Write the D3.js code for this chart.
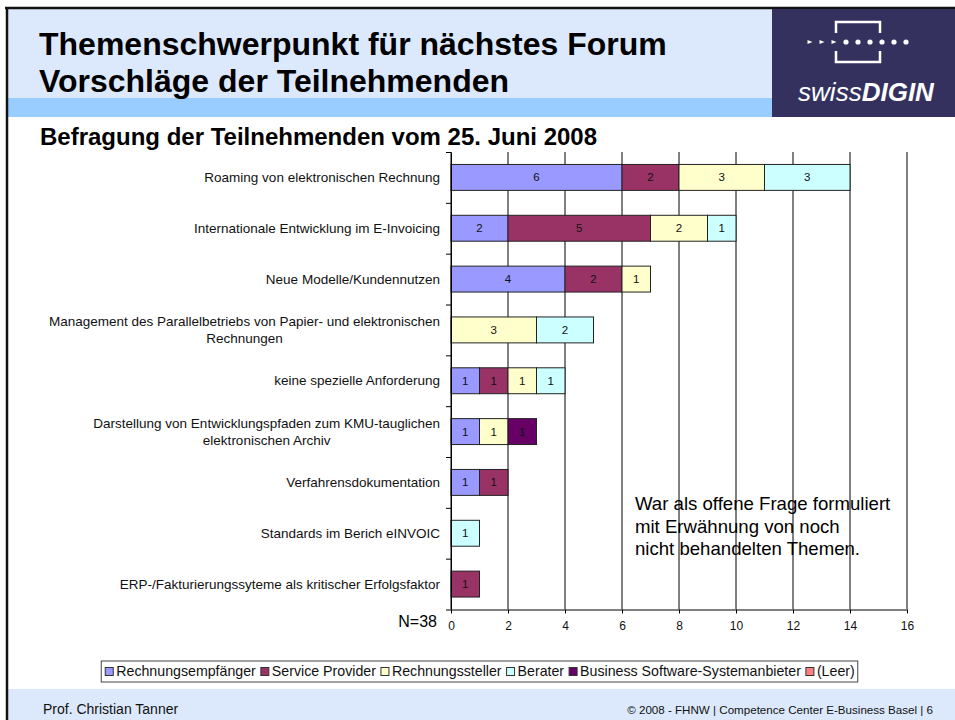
<!DOCTYPE html>
<html>
<head>
<meta charset="utf-8">
<script src="https://cdn.jsdelivr.net/npm/d3@7"></script>
<style>
  body { margin: 0; background: #fff; }
  svg { display: block; font-family: "Liberation Sans", Arial, sans-serif; }
</style>
</head>
<body>
<div id="slide"></div>
<script>
// categories (top to bottom), "\n" marks a wrapped label
var categories = [
  "Roaming von elektronischen Rechnung",
  "Internationale Entwicklung im E-Invoicing",
  "Neue Modelle/Kundennutzen",
  "Management des Parallelbetriebs von Papier- und elektronischen\nRechnungen",
  "keine spezielle Anforderung",
  "Darstellung von Entwicklungspfaden zum KMU-tauglichen\nelektronischen Archiv",
  "Verfahrensdokumentation",
  "Standards im Berich eINVOIC",
  "ERP-/Fakturierungssyteme als kritischer Erfolgsfaktor"
];

// series values, one per category
var rechnungsempfaenger = [6, 2, 4, 0, 1, 1, 1, 0, 0];
var serviceProvider     = [2, 5, 2, 0, 1, 0, 1, 0, 1];
var rechnungssteller    = [3, 2, 1, 3, 1, 1, 0, 0, 0];
var berater             = [3, 1, 0, 2, 1, 0, 0, 1, 0];
var businessSoftware    = [0, 0, 0, 0, 0, 1, 0, 0, 0];
var leer                = [0, 0, 0, 0, 0, 0, 0, 0, 0];

var seriesNames = ["Rechnungsempfänger", "Service Provider", "Rechnungssteller",
  "Berater", "Business Software-Systemanbieter", "(Leer)"];
var seriesColors = ["#9999ff", "#993366", "#ffffcc", "#ccffff", "#660066", "#ff8080"];
var seriesValues = [rechnungsempfaenger, serviceProvider, rechnungssteller,
  berater, businessSoftware, leer];

var xTicks = [0, 2, 4, 6, 8, 10, 12, 14, 16];

var svg = d3.select("#slide").append("svg")
  .attr("width", 955)
  .attr("height", 720);

//Header and frame
svg.append("rect").attr("x", 7).attr("y", 8).attr("width", 948).attr("height", 90).attr("fill", "#dce9fc");
svg.append("rect").attr("x", 7).attr("y", 98).attr("width", 766).attr("height", 19).attr("fill", "#99ccff");
svg.append("rect").attr("x", 7).attr("y", 689).attr("width", 948).attr("height", 31).attr("fill", "#dce9fc");
svg.append("line").attr("x1", 5).attr("x2", 955).attr("y1", 8).attr("y2", 8)
  .attr("stroke", "#111").attr("stroke-width", 2.5);
svg.append("line").attr("x1", 7).attr("x2", 7).attr("y1", 7).attr("y2", 720)
  .attr("stroke", "#111").attr("stroke-width", 2.5);

var title = svg.append("text")
  .attr("x", 39)
  .attr("font-size", 32)
  .attr("font-weight", "bold")
  .attr("fill", "#000");
title.append("tspan").attr("x", 39).attr("y", 55).text("Themenschwerpunkt für nächstes Forum");
title.append("tspan").attr("x", 39).attr("y", 92).text("Vorschläge der Teilnehmenden");

//Logo
var logo = svg.append("g");
logo.append("rect").attr("x", 772).attr("y", 9).attr("width", 183).attr("height", 108).attr("fill", "#34315f");
logo.append("path")
  .attr("d", "M836,33 V22 H880 V33 M836,51 V62 H880 V51")
  .attr("fill", "none").attr("stroke", "#fff").attr("stroke-width", 2.5);
var dotX = d3.range(9).map(function (i) { return 810 + i * 12; });
dotX.forEach(function (cx, i) {
  if (i < 3) {
    logo.append("path")
      .attr("d", "M" + (cx - 2.5) + ",40 L" + (cx + 2.5) + ",42 L" + (cx - 2.5) + ",44 Z")
      .attr("fill", "#fff");
  } else {
    logo.append("circle").attr("cx", cx).attr("cy", 42).attr("r", 2.6).attr("fill", "#fff");
  }
});
var logoText = logo.append("text")
  .attr("x", 866).attr("y", 101)
  .attr("text-anchor", "middle")
  .attr("fill", "#fff")
  .attr("font-style", "italic");
logoText.append("tspan").attr("font-size", 26).text("swiss");
logoText.append("tspan").attr("font-size", 26).attr("font-weight", "bold").text("DIGIN");

svg.append("text")
  .attr("x", 40).attr("y", 145)
  .attr("font-size", 24)
  .attr("font-weight", "bold")
  .text("Befragung der Teilnehmenden vom 25. Juni 2008");

//Chart
var chartTop = 152, chartBottom = 609.5, chartLeft = 451, chartRight = 907;

var xScale = d3.scaleLinear().domain([0, 16]).range([chartLeft, chartRight]);
var yScale = d3.scaleBand()
  .domain(categories)
  .range([chartTop, chartBottom])
  .paddingInner(0.49)
  .paddingOuter(0.245);
var yEdges = d3.scaleLinear().domain([0, categories.length]).range([chartTop, chartBottom]);

var table = categories.map(function (c, i) {
  var row = { category: c };
  seriesNames.forEach(function (s, j) { row[s] = seriesValues[j][i]; });
  return row;
});
var stacked = d3.stack().keys(seriesNames)(table);

var chartGroup = svg.append("g");

// gridlines
chartGroup.append("g")
  .selectAll("line")
  .data(xTicks)
  .enter()
  .append("line")
  .attr("x1", d => xScale(d)).attr("x2", d => xScale(d))
  .attr("y1", chartTop).attr("y2", chartBottom)
  .attr("stroke", "#000").attr("stroke-width", 1);

// bars
var layers = chartGroup.selectAll(".layer")
  .data(stacked)
  .enter()
  .append("g")
  .attr("class", "layer")
  .attr("fill", (d, i) => seriesColors[i]);

layers.selectAll("rect")
  .data(d => d.filter(p => p[1] - p[0] > 0))
  .enter()
  .append("rect")
  .attr("x", d => xScale(d[0]))
  .attr("y", d => yScale(d.data.category))
  .attr("width", d => xScale(d[1]) - xScale(d[0]))
  .attr("height", yScale.bandwidth())
  .attr("stroke", "#222")
  .attr("stroke-width", 1);

layers.selectAll("text")
  .data(d => d.filter(p => p[1] - p[0] > 0))
  .enter()
  .append("text")
  .attr("x", d => (xScale(d[0]) + xScale(d[1])) / 2)
  .attr("y", d => yScale(d.data.category) + yScale.bandwidth() / 2)
  .attr("dy", "0.35em")
  .attr("text-anchor", "middle")
  .attr("font-size", 11.5)
  .attr("fill", "#111")
  .text(d => d[1] - d[0]);

// left axis with ticks at band edges
var leftAxis = d3.axisLeft(yEdges).ticks(categories.length).tickFormat("").tickSizeInner(5).tickSizeOuter(0);
var yAxis = chartGroup.append("g")
  .attr("transform", `translate(${chartLeft}, 0)`)
  .call(leftAxis);
yAxis.select(".domain").attr("stroke", "#000");

// bottom axis
var bottomAxis = d3.axisBottom(xScale).tickValues(xTicks).tickSizeInner(4).tickSizeOuter(0).tickPadding(8);
var xAxis = chartGroup.append("g")
  .attr("transform", `translate(0, ${chartBottom})`)
  .call(bottomAxis);
xAxis.select(".domain").attr("stroke", "#808080").attr("stroke-width", 2);
xAxis.selectAll(".tick line").attr("stroke", "#000");
xAxis.selectAll(".tick text")
  .attr("font-family", "Liberation Sans, Arial, sans-serif")
  .attr("font-size", 12)
  .attr("fill", "#111");

// category labels
categories.forEach(function (c) {
  var lines = c.split("\n");
  var cy = yScale(c) + yScale.bandwidth() / 2;
  var g = chartGroup.append("g");
  var texts = lines.map(function (ln, k) {
    return g.append("text")
      .attr("y", cy + (k - (lines.length - 1) / 2) * 17)
      .attr("dy", "0.35em")
      .attr("font-size", 13.5)
      .attr("fill", "#111")
      .attr("text-anchor", "middle")
      .text(ln);
  });
  var maxW = d3.max(texts, t => t.node().getComputedTextLength());
  texts.forEach(t => t.attr("x", 440 - maxW / 2));
});

svg.append("text")
  .attr("x", 437).attr("y", 627)
  .attr("text-anchor", "end")
  .attr("font-size", 16)
  .text("N=38");

// note
var note = svg.append("text").attr("font-size", 18.6).attr("fill", "#000");
["War als offene Frage formuliert", "mit Erwähnung von noch", "nicht behandelten Themen."]
  .forEach(function (ln, k) {
    note.append("tspan").attr("x", 635).attr("y", 510 + k * 22.5).text(ln);
  });

//Legend
var legend = svg.append("g");
var legendBox = legend.append("rect")
  .attr("y", 661).attr("height", 21)
  .attr("fill", "#fff").attr("stroke", "#444").attr("stroke-width", 1);
var lx = 0;
var items = legend.append("g");
seriesNames.forEach(function (s, i) {
  items.append("rect")
    .attr("x", lx).attr("y", 667.5).attr("width", 8).attr("height", 8)
    .attr("fill", seriesColors[i]).attr("stroke", "#333");
  var t = items.append("text")
    .attr("x", lx + 11).attr("y", 671.5).attr("dy", "0.35em")
    .attr("font-size", 14.2).attr("fill", "#111")
    .text(s);
  lx += 11 + t.node().getComputedTextLength() + 5;
});
var totalW = lx - 5;
var legendLeft = 480 - totalW / 2;
items.attr("transform", `translate(${legendLeft}, 0)`);
legendBox.attr("x", legendLeft - 4).attr("width", totalW + 7);

//Footer
svg.append("text")
  .attr("x", 43).attr("y", 714)
  .attr("font-size", 14)
  .attr("fill", "#111")
  .text("Prof. Christian Tanner");
svg.append("text")
  .attr("x", 933).attr("y", 714)
  .attr("text-anchor", "end")
  .attr("font-size", 11.6)
  .attr("fill", "#111")
  .text("© 2008 - FHNW | Competence Center E-Business Basel | 6");
</script>
</body>
</html>
